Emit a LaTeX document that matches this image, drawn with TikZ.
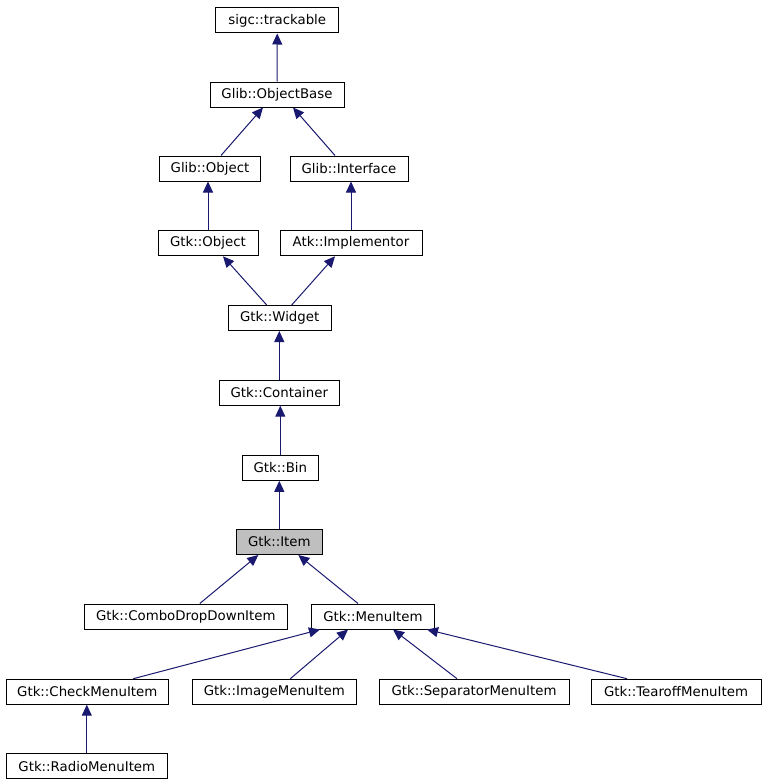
\documentclass[tikz,border=0pt]{standalone}
\usepackage{fontspec}
\setmainfont{DejaVu Sans}
\usepackage{xcolor}
\usepackage{tikz}
\usetikzlibrary{arrows.meta, calc}
\definecolor{navy}{HTML}{191970}
\tikzstyle{cls} = [rectangle, minimum height=25pt, inner sep=0pt, text centered, draw=black, line width=1pt, fill=white, font=\fontsize{13.33}{16}\selectfont]
\tikzstyle{current} = [cls, fill=black!25]
\tikzstyle{arrow} = [draw=navy, line width=1pt, ->, >={Triangle[length=11pt,width=10pt]}]

\begin{document}
\begin{tikzpicture}[x=1pt, y=-1pt]
	\useasboundingbox (0,0) rectangle (763,784);
	
	\node (p1) [cls, minimum width=123pt] at (277.3,20.5) {sigc::trackable};
	\node (p2) [cls, minimum width=134pt] at (277,94.5) {Glib::ObjectBase};
	
	\draw [arrow] (p2) -- (p1);
	
	\node (p3) [cls, minimum width=101pt] at (210,168.5) {Glib::Object};
	\node (p4) [cls, minimum width=118pt] at (349,168.5) {Glib::Interface};
	
	\draw [arrow] ($(p3.north)+(11,0)$) -- ($(p2.south)+(-14,0)$);
	\draw [arrow] ($(p4.north)+(-14,0)$) -- ($(p2.south)+(16,0)$);
	
	\node (p5) [cls, minimum width=100pt] at (208,243.3) {Gtk::Object};
	\node (p6) [cls, minimum width=142pt] at (351,243.3) {Atk::Implementor};
	
	\draw [arrow] (p5.north) -- (p5.north |- p3.south);
	\draw [arrow] (p6.north) -- (p6.north |- p4.south);
	
	\node (p7) [cls, minimum width=103pt] at (279.7,318) {Gtk::Widget};
	
	\draw [arrow] ($(p7.north)+(-13,0)$) -- ($(p5.south)+(15,0)$);
	\draw [arrow] ($(p7.north)+(12,0)$) -- ($(p6.south)+(-16,0)$);
	
	\node (p8) [cls, minimum width=120pt] at (279.3,392.7) {Gtk::Container};
	\node (p9) [cls, minimum width=76pt] at (280.3,467.8) {Gtk::Bin};
	\node (p10) [current, minimum width=86pt] at (279.3,542) {Gtk::Item};
	
	\draw [arrow] (p8.north) -- (p8.north |- p7.south);
	\draw [arrow] (p9.north) -- (p9.north |- p8.south);
	\draw [arrow] (p10.north) -- (p10.north |- p9.south);
	
	\node (p11) [cls, minimum width=203pt] at (185.8,616.5) {Gtk::ComboDropDownItem};
	\node (p12) [cls, minimum width=123pt] at (373,616.5) {Gtk::MenuItem};
	
	\draw [arrow] ($(p11.north)+(14,0)$) -- ($(p10.south)+(-21,0)$);
	\draw [arrow] ($(p12.north)+(-15,0)$) -- ($(p10.south)+(19,0)$);
	
	\node (p13) [cls, minimum width=162pt] at (87.3,691.7) {Gtk::CheckMenuItem};
	\node (p14) [cls, minimum width=164pt] at (274.3,691.7) {Gtk::ImageMenuItem};
	\node (p15) [cls, minimum width=190pt] at (474,691.7) {Gtk::SeparatorMenuItem};
	\node (p16) [cls, minimum width=170pt] at (676,691.7) {Gtk::TearoffMenuItem};
	
	\draw [arrow] ($(p13.north)+(46,0)$) -- ($(p12.south)+(-53,0)$);
	\draw [arrow] ($(p14.north)+(16,0)$) -- ($(p12.south)+(-25,0)$);
	\draw [arrow] ($(p15.north)+(-17,0)$) -- ($(p12.south)+(20,0)$);
	\draw [arrow] ($(p16.north)+(-49,0)$) -- ($(p12.south)+(54,0)$);
	
	\node (p17) [cls, minimum width=161pt] at (86.8,766.3) {Gtk::RadioMenuItem};
	
	\draw [arrow] (p17.north) -- (p17.north |- p13.south);
	
\end{tikzpicture}
\end{document}
